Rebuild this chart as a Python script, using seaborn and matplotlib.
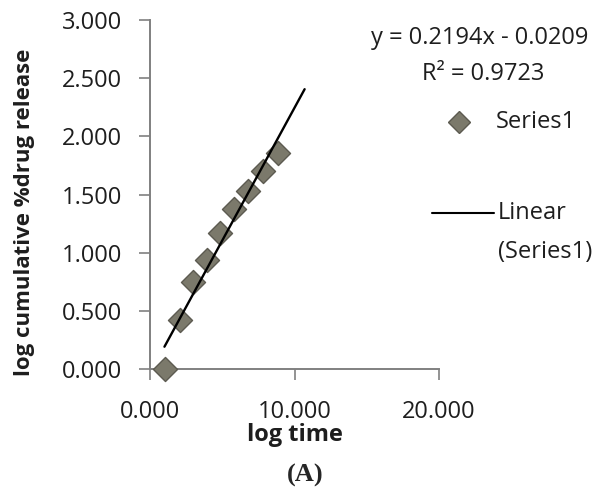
import numpy as np
import pandas as pd
import matplotlib
matplotlib.use("Agg")
import matplotlib.pyplot as plt
import seaborn as sns

# values
log_time = [1.05, 2.05, 3.0, 3.92, 4.85, 5.78, 6.8, 7.82, 8.85]
log_release = [0.0, 0.424, 0.745, 0.94, 1.17, 1.376, 1.527, 1.70, 1.857]
x_ticks = [0, 10, 20]
y_ticks = [0, 0.5, 1.0, 1.5, 2.0, 2.5, 3.0]
trend_range = [1.0, 10.7]
eq_text = "y = 0.2194x - 0.0209"
r2_text = "R² = 0.9723"

sns.set_style("white")
plt.rcParams['font.family'] = ['Open Sans', 'DejaVu Sans']

W, H = 606, 491
df = pd.DataFrame({"log time": log_time, "release": log_release})

fig = plt.figure(figsize=(W / 100, H / 100), dpi=100)
ax = fig.add_axes([150/W, 1 - 369/H, (439-150)/W, (369-20)/H])

sns.scatterplot(data=df, x="log time", y="release", marker="D", s=150,
                color="#7b796b", edgecolor="#5c5a50", linewidth=1.0,
                ax=ax, zorder=3, clip_on=False, legend=False)

# trendline from a least squares fit of the points
slope, icpt = np.polyfit(log_time, log_release, 1)
tx = np.array(trend_range)
ax.plot(tx, slope * tx + icpt, color="black", lw=1.7, zorder=4)

ax.set_xlim(0, 20)
ax.set_ylim(0, 3)
ax.set_xticks(x_ticks)
ax.set_yticks(y_ticks)
ax.set_xticklabels([f"{v:.3f}" for v in x_ticks])
ax.set_yticklabels([f"{v:.3f}" for v in y_ticks])
# seaborn's white style hides the tick marks, Excel shows them outside
ax.tick_params(axis="both", bottom=True, left=True, labelsize=17, length=8, width=1.2,
               color="#808080", direction="out", labelcolor="#1e1e1e")
ax.tick_params(axis="y", pad=12)
ax.tick_params(axis="x", pad=14)
for side in ["top", "right"]:
    ax.spines[side].set_visible(False)
for side in ["left", "bottom"]:
    ax.spines[side].set_color("#808080")
    ax.spines[side].set_linewidth(1.4)

ax.set_xlabel("log time", fontsize=17, fontweight="bold", color="#1e1e1e")
ax.xaxis.label.set_va("center")
ax.xaxis.set_label_coords((295-150)/289, (369-435)/349)
ax.set_ylabel("log cumulative %drug release", fontsize=16, fontweight="bold", color="#1e1e1e")
ax.yaxis.label.set_va("center")
ax.yaxis.set_label_coords((25-150)/289, (369-212)/349)

# equation and legend at the right
txt = dict(fontsize=17, va="center", color="#1e1e1e")
fig.text(480/W, 1 - 38/H, eq_text, ha="center", **txt)
fig.text(483/W, 1 - 74/H, r2_text, ha="center", **txt)
fig.lines.append(plt.Line2D([459/W], [1 - 122/H], marker="D", ms=11,
                            color="#7b796b", mec="#5c5a50", transform=fig.transFigure))
fig.text(496/W, 1 - 122/H, "Series1", ha="left", **txt)
fig.lines.append(plt.Line2D([432/W, 494/W], [1 - 213/H, 1 - 213/H], color="black",
                            lw=1.5, transform=fig.transFigure))
fig.text(498/W, 1 - 213/H, "Linear", ha="left", **txt)
fig.text(498/W, 1 - 252/H, "(Series1)", ha="left", **txt)

fig.text(305/W, 1 - 475/H, "(A)", fontsize=19, fontweight="bold", ha="center", va="center",
         family=["Liberation Serif", "DejaVu Serif"])

fig.savefig("out.png", dpi=100)
